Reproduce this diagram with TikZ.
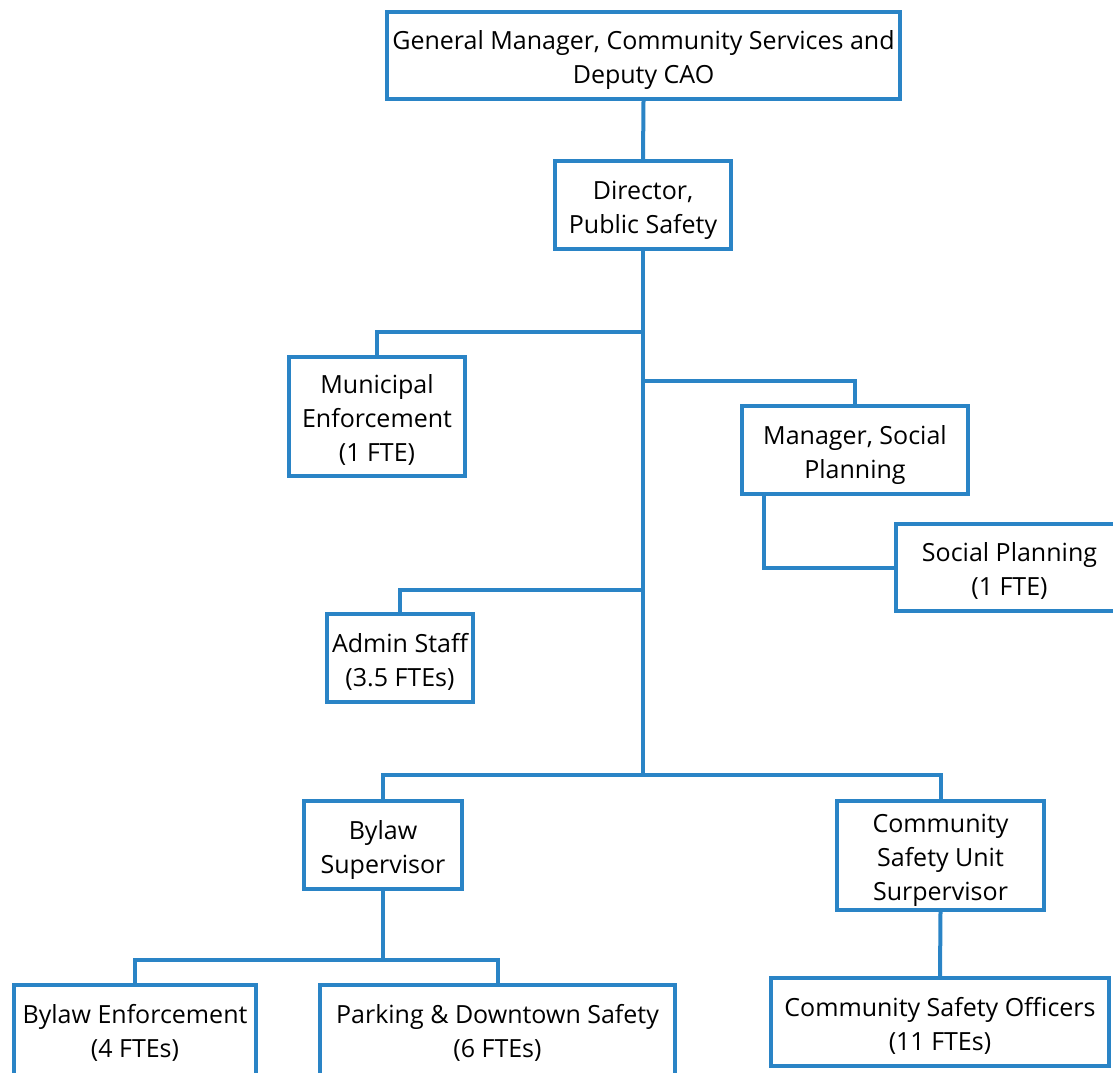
\documentclass[tikz,border=0pt]{standalone}
\usepackage{fontspec}
\setmainfont{Open Sans}
\usetikzlibrary{positioning,calc}

\definecolor{orgblue}{RGB}{42,132,198}
\newcommand{\topline}{\rule{0pt}{28pt}}
\newcommand{\lowline}[1][6pt]{\rule[-#1]{0pt}{#1}}

\tikzset{
  unit/.style={draw=orgblue, line width=4pt, fill=white, align=center,
    inner sep=0pt, font=\fontsize{25}{34}\selectfont},
  link/.style={draw=orgblue, line width=4pt}
}

\begin{document}
\begin{tikzpicture}[x=1pt, y=-1pt, line join=miter]
\useasboundingbox (0,0) rectangle (1113,1072);
\clip (0,0) rectangle (1113,1072);
% boxes
\node[unit, minimum width=513pt, minimum height=87pt] (gm)  at (643.5,55.5) {\topline General Manager, Community Services and\\Deputy CAO\lowline};
\node[unit, minimum width=176pt, minimum height=88pt] (dir) at (643,205) {\topline Director,\\Public Safety\lowline};
\node[unit, minimum width=176pt, minimum height=119pt] (mun) at (377,416.5) {\topline Municipal\\Enforcement\\(1 FTE)\lowline};
\node[unit, minimum width=226pt, minimum height=88pt] (mgr) at (855,450) {\topline Manager, Social\\Planning\lowline};
\node[unit, minimum width=227pt, minimum height=87pt] (soc) at (1009.5,567.5) {\topline Social Planning\\(1 FTE)\lowline};
\node[unit, minimum width=146pt, minimum height=88pt] (adm) at (400,658) {\topline Admin Staff\\(3.5 FTEs)\lowline};
\node[unit, minimum width=158pt, minimum height=88pt] (bys) at (383,845) {\topline Bylaw\\Supervisor\lowline};
\node[unit, minimum width=207pt, minimum height=109pt] (csu) at (940.5,855.5) {\topline Community\\Safety Unit\\Surpervisor\lowline};
\node[unit, minimum width=242pt, minimum height=100pt] (bye) at (135,1035) {\topline Bylaw Enforcement\\(4 FTEs)\lowline[18pt]};
\node[unit, minimum width=355pt, minimum height=100pt] (prk) at (497.5,1035) {\topline Parking \& Downtown Safety\\(6 FTEs)\lowline[18pt]};
\node[unit, minimum width=338pt, minimum height=88pt] (cso) at (940,1022) {\topline Community Safety Officers\\(11 FTEs)\lowline};
% junctions on the trunk
\coordinate (j1) at (643,332);
\coordinate (j2) at (643,381);
\coordinate (j3) at (643,590);
\coordinate (j4) at (643,775);
\coordinate (j5) at (383,960);
\coordinate (ms) at ($(mgr.south west)+(24,0)$);
% connectors
\draw[link] (gm.south) -- (dir.north);
\draw[link] (dir.south) -- (j4);
\draw[link] (j1) -| (mun.north);
\draw[link] (j2) -| (mgr.north);
\draw[link] (ms) |- (soc.west);
\draw[link] (j3) -| (adm.north);
\draw[link] (bys.north) |- (j4) -| (csu.north);
\draw[link] (bys.south) -- (j5);
\draw[link] (bye.north) |- (j5) -| (prk.north);
\draw[link] (csu.south) -- (cso.north);
\end{tikzpicture}
\end{document}
